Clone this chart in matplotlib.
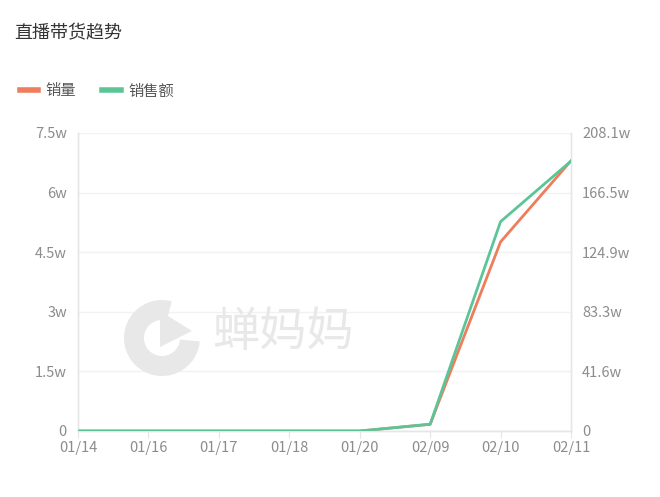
import matplotlib.pyplot as plt
from matplotlib.patches import Wedge, Polygon

plt.rcParams['font.family'] = ['Noto Sans CJK SC', 'DejaVu Sans']

# 数据
dates = ['01/14', '01/16', '01/17', '01/18', '01/20', '02/09', '02/10', '02/11']
sales_qty = [0, 0, 0, 0, 0, 0.17, 4.76, 6.80]          # 销量 (w)
sales_amt = [0, 0, 0, 0, 0, 4.7, 146.2, 188.5]         # 销售额 (w)
left_ticks = [0, 1.5, 3, 4.5, 6, 7.5]
left_labels = ['0', '1.5w', '3w', '4.5w', '6w', '7.5w']
right_ticks = [0, 41.6, 83.3, 124.9, 166.5, 208.1]
right_labels = ['0', '41.6w', '83.3w', '124.9w', '166.5w', '208.1w']

orange = '#EE7D5C'
green = '#5CC598'
label_color = '#8c8c8c'
line_gray = '#e6e6e6'
wm_color = '#e8e8e8'

fig = plt.figure(figsize=(6.6, 4.97), dpi=100)
ax1 = fig.add_axes([78 / 660, 1 - 431 / 497, (571 - 78) / 660, (431 - 133) / 497])
ax2 = ax1.twinx()

x = list(range(len(dates)))

# 水印
fig.text(283 / 660, 1 - 333 / 497, '蝉妈妈', fontsize=34, color=wm_color,
         ha='center', va='center', zorder=0)
t = fig.dpi_scale_trans
fig.patches.append(Wedge((1.62, 1.59), 0.38, 75, 355, width=0.2, transform=t,
                         facecolor=wm_color, edgecolor='none', zorder=0))
fig.patches.append(Polygon([(1.60, 1.86), (1.60, 1.50), (1.92, 1.66)], closed=True,
                           transform=t, facecolor=wm_color, edgecolor='none', zorder=0))

ax1.plot(x, sales_qty, color=orange, lw=2, zorder=3, label='销量')
ax2.plot(x, sales_amt, color=green, lw=2, zorder=4, label='销售额')

ax1.set_xlim(0, len(dates) - 1)
ax1.set_ylim(0, 7.5)
ax2.set_ylim(0, 208.1)
ax1.set_xticks(x)
ax1.set_xticklabels(dates)
ax1.set_yticks(left_ticks)
ax1.set_yticklabels(left_labels)
ax2.set_yticks(right_ticks)
ax2.set_yticklabels(right_labels)

for ax in (ax1, ax2):
    ax.patch.set_visible(False)
    ax.spines['top'].set_visible(False)
    for s in ('left', 'right', 'bottom'):
        ax.spines[s].set_color(line_gray)
        ax.spines[s].set_linewidth(1)
    ax.tick_params(axis='y', length=0, labelsize=10.5, labelcolor=label_color, pad=8)
ax1.tick_params(axis='x', length=5, color=line_gray, labelsize=10.5,
                labelcolor=label_color, pad=2)
ax1.grid(axis='y', color='#f2f2f2', lw=1)
ax1.set_axisbelow(True)

# 标题
fig.text(14 / 660, 1 - 33 / 497, '直播带货趋势', fontsize=13, color='#333333',
         ha='left', va='center')

# 图例
h1, l1 = ax1.get_legend_handles_labels()
h2, l2 = ax2.get_legend_handles_labels()
fig.legend(h1 + h2, l1 + l2, loc='center left', bbox_to_anchor=(6 / 660, 1 - 91 / 497),
           ncol=2, frameon=False, fontsize=11, handlelength=1.2, handletextpad=0.5,
           columnspacing=1.7, labelcolor='#555555')
for line in fig.legends[0].get_lines():
    line.set_linewidth(4)

fig.savefig('out.png', dpi=100)
